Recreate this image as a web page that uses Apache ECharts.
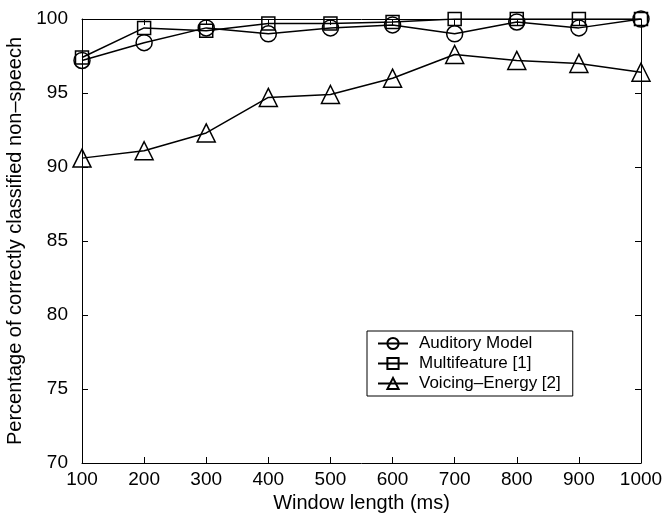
<!DOCTYPE html>
<html><head><meta charset="utf-8">
<script src="https://cdn.jsdelivr.net/npm/echarts@6/dist/echarts.min.js"></script>
<style>html,body{margin:0;padding:0;background:#fff}#c{width:668px;height:514px}</style>
</head><body><div id="c"></div>
<script>
const windowLengths = [100, 200, 300, 400, 500, 600, 700, 800, 900, 1000];
const auditoryModel = [97.2, 98.4, 99.4, 99.0, 99.4, 99.6, 99.0, 99.8, 99.4, 100.0];
const multifeature = [97.4, 99.4, 99.2, 99.7, 99.7, 99.8, 100.0, 100.0, 100.0, 100.0];
const voicingEnergy = [90.6, 91.1, 92.3, 94.7, 94.9, 96.0, 97.6, 97.2, 97.0, 96.4];
const seriesNames = ['Auditory Model', 'Multifeature [1]', 'Voicing\u2013Energy [2]'];

const font = 'Liberation Sans, Arial, Helvetica, sans-serif';
const chart = echarts.init(document.getElementById('c'));
function pairs(vals){ return windowLengths.map((x,i)=>[x, vals[i]]); }
function mkSeries(name, vals, symbol, size){
  return {
    name, type:'line', data: pairs(vals), symbol, symbolSize: size,
    xAxisIndex:0, yAxisIndex:0,
    lineStyle:{color:'#000', width:1.5},
    itemStyle:{color:'rgba(0,0,0,0)', borderColor:'#000', borderWidth:1.5},
    emphasis:{disabled:true}, animation:false
  };
}
const axisCommon = {
  axisLine:{show:true, onZero:false, lineStyle:{color:'#000', width:1}},
  axisTick:{show:true, inside:true, length:6, lineStyle:{color:'#000'}},
  splitLine:{show:false}
};
chart.setOption({
  animation:false,
  grid:{left:82, right:27, top:19, bottom:51, containLabel:false, outerBoundsMode:'none'},
  legend:{
    orient:'vertical', left:367, top:331,
    data: seriesNames,
    borderColor:'#000', borderWidth:1, padding:[4,12,4,10],
    itemGap:3, itemWidth:30, itemHeight:14,
    textStyle:{fontFamily:font, fontSize:17, color:'#000', padding:[0,0,0,6]},
    backgroundColor:'#fff'
  },
  xAxis:[
    Object.assign({type:'value', min:100, max:1000, interval:100, position:'bottom',
      name:'Window length (ms)', nameLocation:'middle', nameGap:26,
      nameTextStyle:{fontFamily:font, fontSize:20, color:'#000'},
      axisLabel:{fontFamily:font, fontSize:19, color:'#000', margin:7, formatter: v => String(v)}}, axisCommon),
    Object.assign({type:'value', min:100, max:1000, interval:100, position:'top',
      axisLabel:{show:false}}, axisCommon)
  ],
  yAxis:[
    Object.assign({type:'value', min:70, max:100, interval:5, position:'left',
      name:'Percentage of correctly classified non\u2013speech', nameLocation:'middle', nameGap:51,
      nameTextStyle:{fontFamily:font, fontSize:20, color:'#000'},
      axisLabel:{fontFamily:font, fontSize:19, color:'#000', margin:14}}, axisCommon),
    Object.assign({type:'value', min:70, max:100, interval:5, position:'right',
      axisLabel:{show:false}}, axisCommon)
  ],
  series:[
    mkSeries(seriesNames[0], auditoryModel, 'circle', 16),
    mkSeries(seriesNames[1], multifeature, 'rect', 13),
    mkSeries(seriesNames[2], voicingEnergy, 'triangle', 18)
  ]
});
</script></body></html>
